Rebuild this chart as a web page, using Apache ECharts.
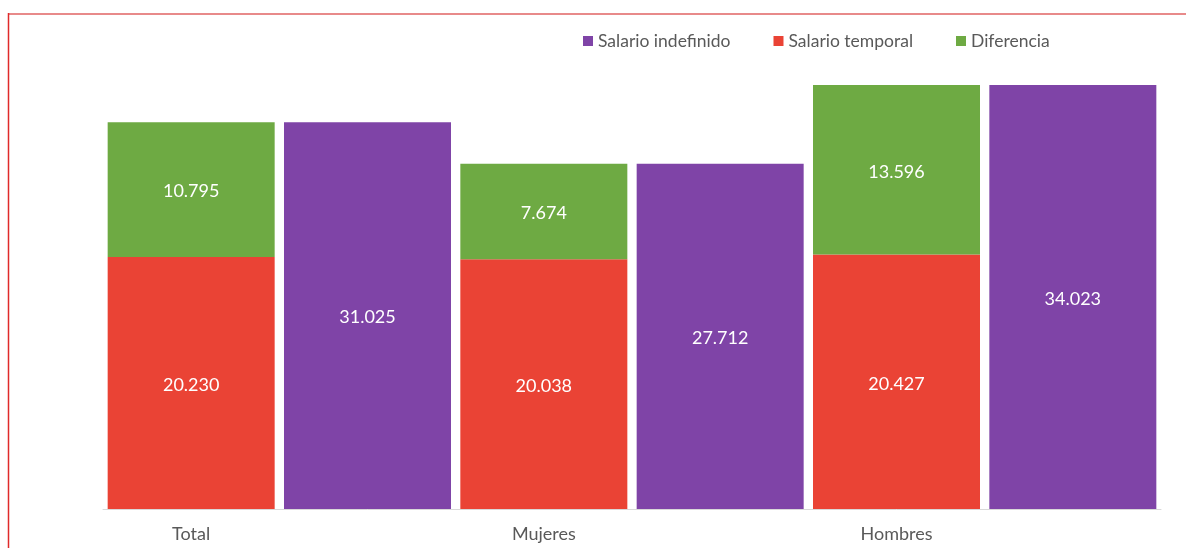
<!DOCTYPE html>
<html>
<head>
<meta charset="utf-8">
<script src="https://cdn.jsdelivr.net/npm/echarts@6/dist/echarts.min.js"></script>
<style>
  html, body { margin: 0; padding: 0; background: #ffffff; }
  #chart { width: 1186px; height: 548px; }
</style>
</head>
<body>
<div id="chart"></div>
<script>
// Salario medio anual (euros) según tipo de contrato
const categories = ['Total', 'Mujeres', 'Hombres'];
const salarioTemporal = [20230, 20038, 20427];
const diferencia = [10795, 7674, 13596];
const salarioIndefinido = [31025, 27712, 34023];

const colors = { indefinido: '#7F44A7', temporal: '#EA4335', diferencia: '#6EAA43' };
const FONT = 'Lato, "Open Sans", sans-serif';

// Each category uses two slots: the stacked temporal+diferencia column, then the indefinido column.
const slotLabels = [];
const tempData = [], difData = [], indefData = [];
categories.forEach((c, i) => {
  slotLabels.push(c, '');
  tempData.push(salarioTemporal[i], '-');
  difData.push(diferencia[i], '-');
  indefData.push('-', salarioIndefinido[i]);
});

const fmt = v => String(v).replace(/\B(?=(\d{3})+(?!\d))/g, '.');
const valueLabel = {
  show: true, position: 'inside', offset: [0, 2], color: '#ffffff', fontSize: 18, fontFamily: FONT,
  formatter: p => fmt(p.value)
};

const chart = echarts.init(document.getElementById('chart'));
chart.setOption({
  animation: false,
  textStyle: { fontFamily: FONT },
  legend: {
    data: ['Salario indefinido', 'Salario temporal', 'Diferencia'],
    left: 578, top: 27,
    itemWidth: 10, itemHeight: 10, itemGap: 43,
    icon: 'rect',
    textStyle: { color: '#595959', fontSize: 17.5, fontFamily: FONT }
  },
  grid: { left: 103, right: 25, top: 72.8, bottom: 39, containLabel: false },
  xAxis: {
    type: 'category',
    data: slotLabels,
    axisLine: { lineStyle: { color: '#d9d9d9', width: 1 } },
    axisTick: { show: false },
    axisLabel: { interval: 0, color: '#595959', fontSize: 18, fontFamily: FONT, margin: 16 }
  },
  yAxis: {
    type: 'value', min: 0, max: 35000,
    show: false, splitLine: { show: false }
  },
  graphic: [
    { type: 'line', shape: { x1: 8, y1: 14, x2: 1186, y2: 14 }, style: { stroke: '#E88A8A', lineWidth: 2 } },
    { type: 'line', shape: { x1: 8.5, y1: 13, x2: 8.5, y2: 548 }, style: { stroke: '#E02A2A', lineWidth: 1.5 } }
  ],
  series: [
    { name: 'Salario temporal', type: 'bar', stack: 'sal', barWidth: 167, data: tempData,
      itemStyle: { color: colors.temporal }, label: valueLabel },
    { name: 'Diferencia', type: 'bar', stack: 'sal', barWidth: 167, data: difData,
      itemStyle: { color: colors.diferencia }, label: valueLabel },
    { name: 'Salario indefinido', type: 'bar', stack: 'sal', barWidth: 167, data: indefData,
      itemStyle: { color: colors.indefinido }, label: valueLabel }
  ]
});
</script>
</body>
</html>
